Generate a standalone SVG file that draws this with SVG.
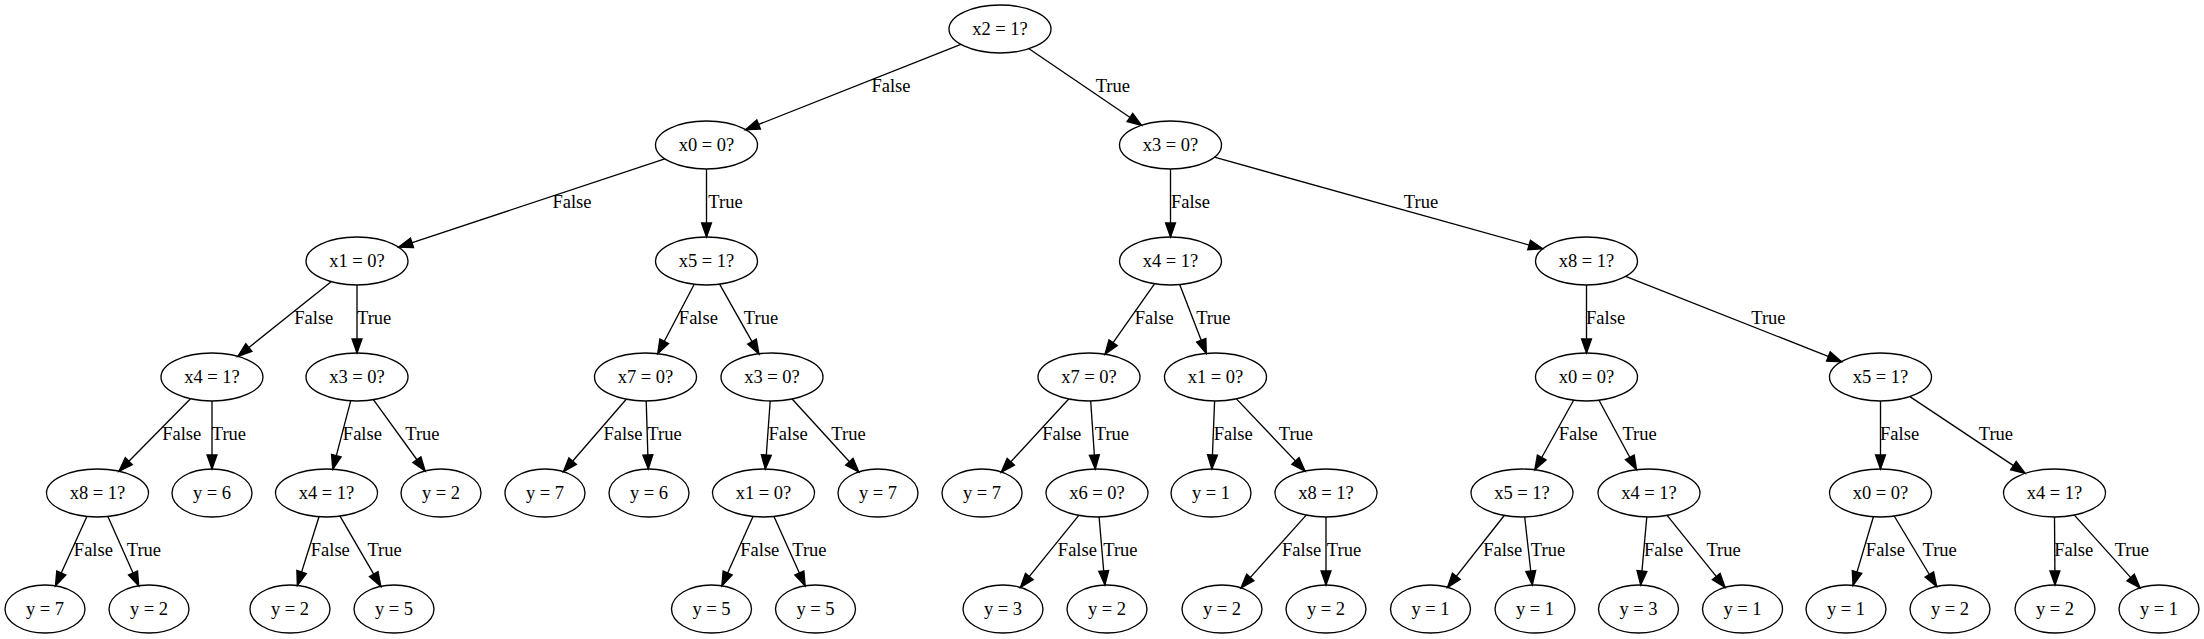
<svg xmlns="http://www.w3.org/2000/svg" width="2204" height="639" viewBox="0 0 2204 639">
<style>
.n ellipse{fill:none;stroke:#000;stroke-width:1.33}
text{font-family:"Liberation Serif","Times New Roman",serif;font-size:18.5px;fill:#000;text-anchor:middle}
.e line{stroke:#000;stroke-width:1.33;marker-end:url(#ah)}
</style>
<defs>
<marker id="ah" markerUnits="userSpaceOnUse" markerWidth="14" markerHeight="10" viewBox="0 -4.65 13.25 9.3" refX="13.25" refY="0" orient="auto" overflow="visible"><path d="M0,-4.65 L13.25,0 L0,4.65 z" fill="#000" stroke="#000" stroke-width="1.33"/></marker>
</defs>
<rect width="2204" height="639" fill="#fff"/>
<g id="connectors">
<g class="e"><line x1="960.9" y1="44.4" x2="745.6" y2="129.6"/><text x="891" y="92">False</text></g>
<g class="e"><line x1="1029" y1="48.7" x2="1141.5" y2="125.3"/><text x="1112.8" y="92">True</text></g>
<g class="e"><line x1="664.8" y1="158.8" x2="398.7" y2="247.2"/><text x="572" y="208">False</text></g>
<g class="e"><line x1="706.5" y1="169" x2="706.5" y2="237"/><text x="725.5" y="208">True</text></g>
<g class="e"><line x1="1170.5" y1="169" x2="1170.5" y2="237"/><text x="1190.5" y="208">False</text></g>
<g class="e"><line x1="1214.4" y1="157.2" x2="1542.6" y2="248.8"/><text x="1421" y="208">True</text></g>
<g class="e"><line x1="331.1" y1="281.7" x2="237.9" y2="356.3"/><text x="313.8" y="324">False</text></g>
<g class="e"><line x1="357" y1="285" x2="357" y2="353"/><text x="374.2" y="324">True</text></g>
<g class="e"><line x1="694.25" y1="284.3" x2="657.75" y2="353.7"/><text x="698.4" y="324">False</text></g>
<g class="e"><line x1="719.6" y1="284.2" x2="758.9" y2="353.8"/><text x="761" y="324">True</text></g>
<g class="e"><line x1="1154.5" y1="283.8" x2="1105" y2="354.2"/><text x="1154.3" y="324">False</text></g>
<g class="e"><line x1="1179.7" y1="284.6" x2="1206.3" y2="353.4"/><text x="1213.3" y="324">True</text></g>
<g class="e"><line x1="1586.5" y1="285" x2="1586.5" y2="353"/><text x="1605.6" y="324">False</text></g>
<g class="e"><line x1="1625.6" y1="276.4" x2="1841.4" y2="361.6"/><text x="1768.4" y="324">True</text></g>
<g class="e"><line x1="190.5" y1="398.8" x2="119" y2="471.2"/><text x="181.7" y="440">False</text></g>
<g class="e"><line x1="212" y1="401" x2="212" y2="469"/><text x="228.9" y="440">True</text></g>
<g class="e"><line x1="350.7" y1="400.8" x2="332.8" y2="469.2"/><text x="362.4" y="440">False</text></g>
<g class="e"><line x1="373.4" y1="399.7" x2="425.1" y2="471"/><text x="422.4" y="440">True</text></g>
<g class="e"><line x1="626.25" y1="399.2" x2="563.45" y2="471.7"/><text x="623" y="440">False</text></g>
<g class="e"><line x1="646.2" y1="401" x2="648.3" y2="469"/><text x="664.5" y="440">True</text></g>
<g class="e"><line x1="770.2" y1="401" x2="765.3" y2="469"/><text x="788.1" y="440">False</text></g>
<g class="e"><line x1="792.15" y1="399.05" x2="858.8" y2="472"/><text x="848.5" y="440">True</text></g>
<g class="e"><line x1="1068.7" y1="399" x2="1001.3" y2="472.1"/><text x="1061.8" y="440">False</text></g>
<g class="e"><line x1="1090.7" y1="401" x2="1095.3" y2="469"/><text x="1111.9" y="440">True</text></g>
<g class="e"><line x1="1214.6" y1="401" x2="1211.9" y2="469"/><text x="1233.2" y="440">False</text></g>
<g class="e"><line x1="1236.4" y1="398.9" x2="1305.1" y2="471.1"/><text x="1295.9" y="440">True</text></g>
<g class="e"><line x1="1573.6" y1="400.25" x2="1534.9" y2="469.75"/><text x="1578.2" y="440">False</text></g>
<g class="e"><line x1="1599" y1="400.3" x2="1636.5" y2="469.7"/><text x="1639.6" y="440">True</text></g>
<g class="e"><line x1="1880.5" y1="401" x2="1880.5" y2="469"/><text x="1899.6" y="440">False</text></g>
<g class="e"><line x1="1909.9" y1="396.6" x2="2025.1" y2="473.4"/><text x="1995.9" y="440">True</text></g>
<g class="e"><line x1="86.9" y1="516.5" x2="55.5" y2="585.8"/><text x="93.4" y="556">False</text></g>
<g class="e"><line x1="107.9" y1="516.5" x2="138.7" y2="585.8"/><text x="143.9" y="556">True</text></g>
<g class="e"><line x1="319" y1="516.7" x2="297.4" y2="585.4"/><text x="330.3" y="556">False</text></g>
<g class="e"><line x1="340" y1="516.15" x2="380.8" y2="586.3"/><text x="384.6" y="556">True</text></g>
<g class="e"><line x1="753" y1="516.5" x2="721.9" y2="585.8"/><text x="759.8" y="556">False</text></g>
<g class="e"><line x1="774" y1="516.5" x2="805.1" y2="585.8"/><text x="809.4" y="556">True</text></g>
<g class="e"><line x1="1078.8" y1="515.4" x2="1020.5" y2="587.4"/><text x="1077.4" y="556">False</text></g>
<g class="e"><line x1="1099.1" y1="517" x2="1104.9" y2="585"/><text x="1120.4" y="556">True</text></g>
<g class="e"><line x1="1306.2" y1="515.1" x2="1241" y2="587.9"/><text x="1301.6" y="556">False</text></g>
<g class="e"><line x1="1326" y1="517" x2="1326" y2="585"/><text x="1344" y="556">True</text></g>
<g class="e"><line x1="1504.25" y1="515.5" x2="1447.6" y2="587.3"/><text x="1502.7" y="556">False</text></g>
<g class="e"><line x1="1524.7" y1="517" x2="1532.3" y2="585"/><text x="1548" y="556">True</text></g>
<g class="e"><line x1="1646.8" y1="517" x2="1640.7" y2="585"/><text x="1663.6" y="556">False</text></g>
<g class="e"><line x1="1667.1" y1="515.4" x2="1725.05" y2="587.4"/><text x="1723.6" y="556">True</text></g>
<g class="e"><line x1="1873.4" y1="516.8" x2="1853.05" y2="585.4"/><text x="1885.4" y="556">False</text></g>
<g class="e"><line x1="1894.2" y1="516" x2="1936.6" y2="586.5"/><text x="1939.7" y="556">True</text></g>
<g class="e"><line x1="2054.5" y1="517" x2="2055" y2="585"/><text x="2073.7" y="556">False</text></g>
<g class="e"><line x1="2074.35" y1="515.1" x2="2140.05" y2="587.9"/><text x="2131.8" y="556">True</text></g>
</g>
<g id="n0" class="n"><ellipse cx="1000" cy="29" rx="51" ry="24"/><text x="1000" y="35">x2 = 1?</text></g>
<g id="n1" class="n"><ellipse cx="706.5" cy="145" rx="51" ry="24"/><text x="706.5" y="151">x0 = 0?</text></g>
<g id="n2" class="n"><ellipse cx="1170.5" cy="145" rx="51" ry="24"/><text x="1170.5" y="151">x3 = 0?</text></g>
<g id="n3" class="n"><ellipse cx="357" cy="261" rx="51" ry="24"/><text x="357" y="267">x1 = 0?</text></g>
<g id="n4" class="n"><ellipse cx="706.5" cy="261" rx="51" ry="24"/><text x="706.5" y="267">x5 = 1?</text></g>
<g id="n5" class="n"><ellipse cx="1170.5" cy="261" rx="51" ry="24"/><text x="1170.5" y="267">x4 = 1?</text></g>
<g id="n6" class="n"><ellipse cx="1586.5" cy="261" rx="51" ry="24"/><text x="1586.5" y="267">x8 = 1?</text></g>
<g id="n7" class="n"><ellipse cx="212" cy="377" rx="51" ry="24"/><text x="212" y="383">x4 = 1?</text></g>
<g id="n8" class="n"><ellipse cx="357" cy="377" rx="51" ry="24"/><text x="357" y="383">x3 = 0?</text></g>
<g id="n9" class="n"><ellipse cx="645.5" cy="377" rx="51" ry="24"/><text x="645.5" y="383">x7 = 0?</text></g>
<g id="n10" class="n"><ellipse cx="772" cy="377" rx="51" ry="24"/><text x="772" y="383">x3 = 0?</text></g>
<g id="n11" class="n"><ellipse cx="1089" cy="377" rx="51" ry="24"/><text x="1089" y="383">x7 = 0?</text></g>
<g id="n12" class="n"><ellipse cx="1215.5" cy="377" rx="51" ry="24"/><text x="1215.5" y="383">x1 = 0?</text></g>
<g id="n13" class="n"><ellipse cx="1586.5" cy="377" rx="51" ry="24"/><text x="1586.5" y="383">x0 = 0?</text></g>
<g id="n14" class="n"><ellipse cx="1880.5" cy="377" rx="51" ry="24"/><text x="1880.5" y="383">x5 = 1?</text></g>
<g id="n15" class="n"><ellipse cx="97.5" cy="493" rx="51" ry="24"/><text x="97.5" y="499">x8 = 1?</text></g>
<g id="n16" class="n"><ellipse cx="212" cy="493" rx="40" ry="24"/><text x="212" y="499">y = 6</text></g>
<g id="n17" class="n"><ellipse cx="326.5" cy="493" rx="51" ry="24"/><text x="326.5" y="499">x4 = 1?</text></g>
<g id="n18" class="n"><ellipse cx="441" cy="493" rx="40" ry="24"/><text x="441" y="499">y = 2</text></g>
<g id="n19" class="n"><ellipse cx="545" cy="493" rx="40" ry="24"/><text x="545" y="499">y = 7</text></g>
<g id="n20" class="n"><ellipse cx="649" cy="493" rx="40" ry="24"/><text x="649" y="499">y = 6</text></g>
<g id="n21" class="n"><ellipse cx="763.5" cy="493" rx="51" ry="24"/><text x="763.5" y="499">x1 = 0?</text></g>
<g id="n22" class="n"><ellipse cx="878" cy="493" rx="40" ry="24"/><text x="878" y="499">y = 7</text></g>
<g id="n23" class="n"><ellipse cx="982" cy="493" rx="40" ry="24"/><text x="982" y="499">y = 7</text></g>
<g id="n24" class="n"><ellipse cx="1097" cy="493" rx="51" ry="24"/><text x="1097" y="499">x6 = 0?</text></g>
<g id="n25" class="n"><ellipse cx="1211" cy="493" rx="40" ry="24"/><text x="1211" y="499">y = 1</text></g>
<g id="n26" class="n"><ellipse cx="1326" cy="493" rx="51" ry="24"/><text x="1326" y="499">x8 = 1?</text></g>
<g id="n27" class="n"><ellipse cx="1522" cy="493" rx="51" ry="24"/><text x="1522" y="499">x5 = 1?</text></g>
<g id="n28" class="n"><ellipse cx="1649" cy="493" rx="51" ry="24"/><text x="1649" y="499">x4 = 1?</text></g>
<g id="n29" class="n"><ellipse cx="1880.5" cy="493" rx="51" ry="24"/><text x="1880.5" y="499">x0 = 0?</text></g>
<g id="n30" class="n"><ellipse cx="2054.5" cy="493" rx="51" ry="24"/><text x="2054.5" y="499">x4 = 1?</text></g>
<g id="n31" class="n"><ellipse cx="45" cy="609" rx="40" ry="24"/><text x="45" y="615">y = 7</text></g>
<g id="n32" class="n"><ellipse cx="149" cy="609" rx="40" ry="24"/><text x="149" y="615">y = 2</text></g>
<g id="n33" class="n"><ellipse cx="290" cy="609" rx="40" ry="24"/><text x="290" y="615">y = 2</text></g>
<g id="n34" class="n"><ellipse cx="394" cy="609" rx="40" ry="24"/><text x="394" y="615">y = 5</text></g>
<g id="n35" class="n"><ellipse cx="711.5" cy="609" rx="40" ry="24"/><text x="711.5" y="615">y = 5</text></g>
<g id="n36" class="n"><ellipse cx="815.5" cy="609" rx="40" ry="24"/><text x="815.5" y="615">y = 5</text></g>
<g id="n37" class="n"><ellipse cx="1003" cy="609" rx="40" ry="24"/><text x="1003" y="615">y = 3</text></g>
<g id="n38" class="n"><ellipse cx="1107" cy="609" rx="40" ry="24"/><text x="1107" y="615">y = 2</text></g>
<g id="n39" class="n"><ellipse cx="1222" cy="609" rx="40" ry="24"/><text x="1222" y="615">y = 2</text></g>
<g id="n40" class="n"><ellipse cx="1326" cy="609" rx="40" ry="24"/><text x="1326" y="615">y = 2</text></g>
<g id="n41" class="n"><ellipse cx="1430.5" cy="609" rx="40" ry="24"/><text x="1430.5" y="615">y = 1</text></g>
<g id="n42" class="n"><ellipse cx="1535" cy="609" rx="40" ry="24"/><text x="1535" y="615">y = 1</text></g>
<g id="n43" class="n"><ellipse cx="1638.5" cy="609" rx="40" ry="24"/><text x="1638.5" y="615">y = 3</text></g>
<g id="n44" class="n"><ellipse cx="1742.5" cy="609" rx="40" ry="24"/><text x="1742.5" y="615">y = 1</text></g>
<g id="n45" class="n"><ellipse cx="1846" cy="609" rx="40" ry="24"/><text x="1846" y="615">y = 1</text></g>
<g id="n46" class="n"><ellipse cx="1950" cy="609" rx="40" ry="24"/><text x="1950" y="615">y = 2</text></g>
<g id="n47" class="n"><ellipse cx="2055" cy="609" rx="40" ry="24"/><text x="2055" y="615">y = 2</text></g>
<g id="n48" class="n"><ellipse cx="2159" cy="609" rx="40" ry="24"/><text x="2159" y="615">y = 1</text></g>
</svg>
